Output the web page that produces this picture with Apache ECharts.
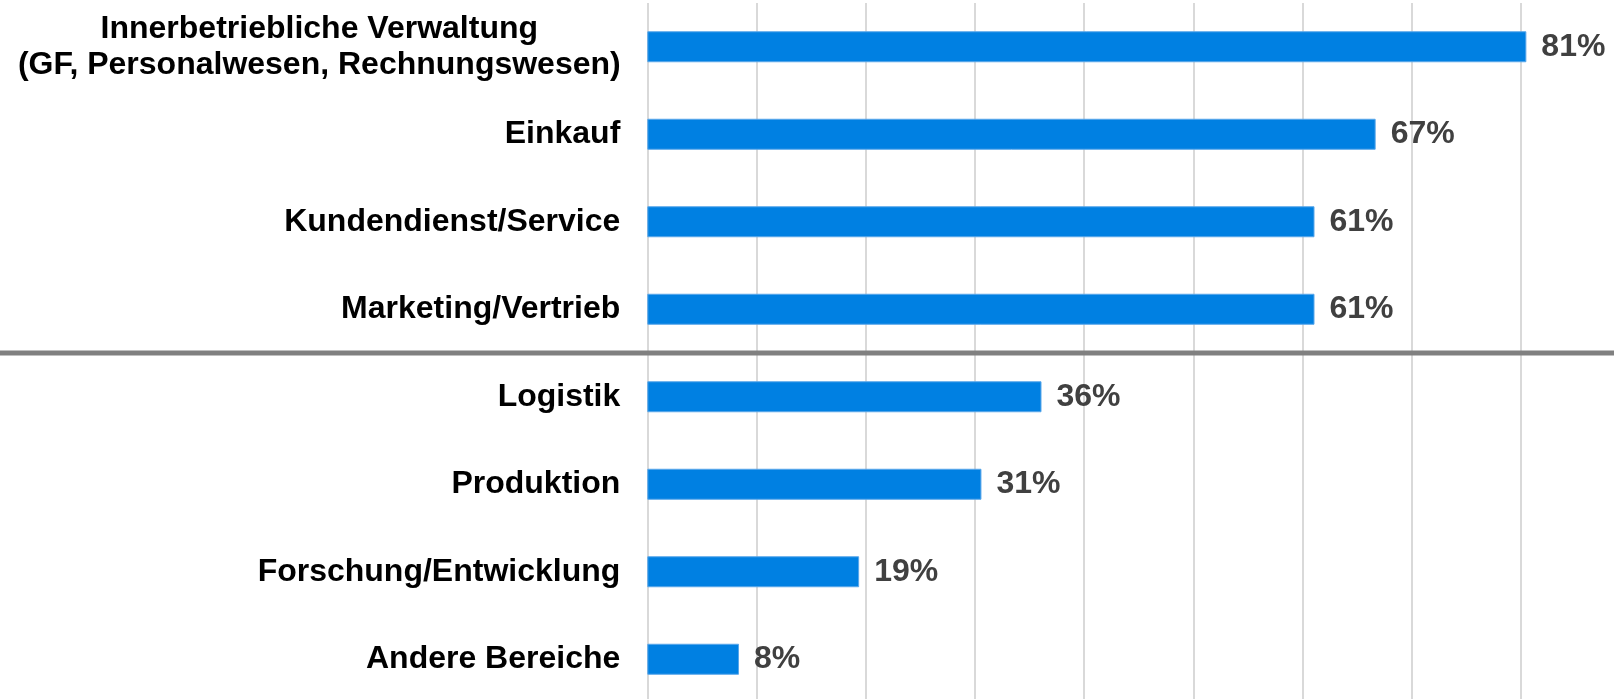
<!DOCTYPE html>
<html>
<head>
<meta charset="utf-8">
<script src="https://cdn.jsdelivr.net/npm/echarts@6/dist/echarts.min.js"></script>
<style>
  body { margin: 0; background: #fff; }
  #chart { width: 1614px; height: 699px; }
</style>
</head>
<body>
<div id="chart"></div>
<script>
// Bereiche, von oben nach unten
var categories = [
  'Innerbetriebliche Verwaltung\n(GF, Personalwesen, Rechnungswesen)',
  'Einkauf',
  'Kundendienst/Service',
  'Marketing/Vertrieb',
  'Logistik',
  'Produktion',
  'Forschung/Entwicklung',
  'Andere Bereiche'
]
var values = [80.5, 66.7, 61.1, 61.1, 36.1, 30.6, 19.4, 8.4]
// Trennlinie nach dieser Kategorie
var splitAfter = 'Marketing/Vertrieb'

var font = 'Arial, "Liberation Sans", sans-serif'
var chart = echarts.init(document.getElementById('chart'))

chart.setOption({
  animation: false,
  grid: {
    left: 647.3, top: 3, width: 982.8, height: 700,
    containLabel: false,
    outerBoundsMode: 'none'
  },
  xAxis: {
    type: 'value',
    min: 0,
    max: 90,
    interval: 10,
    axisLabel: { show: false },
    axisLine: { show: false },
    axisTick: { show: false },
    splitLine: { show: true, lineStyle: { color: '#d9d9d9', width: 2 } }
  },
  yAxis: {
    type: 'category',
    inverse: true,
    data: categories,
    axisLine: { show: false },
    axisTick: { show: false },
    axisLabel: {
      margin: 27,
      color: '#000',
      fontFamily: font,
      fontWeight: 'bold',
      fontSize: 32,
      lineHeight: 36,
      align: 'right',
      formatter: function (v) {
        if (v.indexOf('\n') < 0) return v
        // mehrzeilige Beschriftung zentriert
        return v.split('\n').map(function (s) { return '{c|' + s + '}' }).join('\n')
      },
      rich: {
        c: {
          width: 602,
          align: 'center',
          color: '#000',
          fontFamily: font,
          fontWeight: 'bold',
          fontSize: 32,
          lineHeight: 36
        }
      }
    }
  },
  series: [{
    type: 'bar',
    data: values,
    barWidth: 31,
    itemStyle: { color: '#0080e2', borderColor: '#5aa7ea', borderWidth: 1 },
    label: {
      show: true,
      position: 'right',
      distance: 15,
      color: '#404040',
      fontFamily: font,
      fontWeight: 'bold',
      fontSize: 32,
      formatter: function (p) { return Math.round(p.value) + '%' }
    }
  }]
})

// graue Trennlinie zwischen den Gruppen
var idx = categories.indexOf(splitAfter)
var y1 = chart.convertToPixel({ yAxisIndex: 0 }, categories[idx])
var y2 = chart.convertToPixel({ yAxisIndex: 0 }, categories[idx + 1])
var ySep = (y1 + y2) / 2
chart.setOption({
  graphic: [{
    type: 'line',
    shape: { x1: 0, y1: ySep, x2: 1614, y2: ySep },
    style: { stroke: '#808080', lineWidth: 5 },
    z: 100
  }]
})
</script>
</body>
</html>
